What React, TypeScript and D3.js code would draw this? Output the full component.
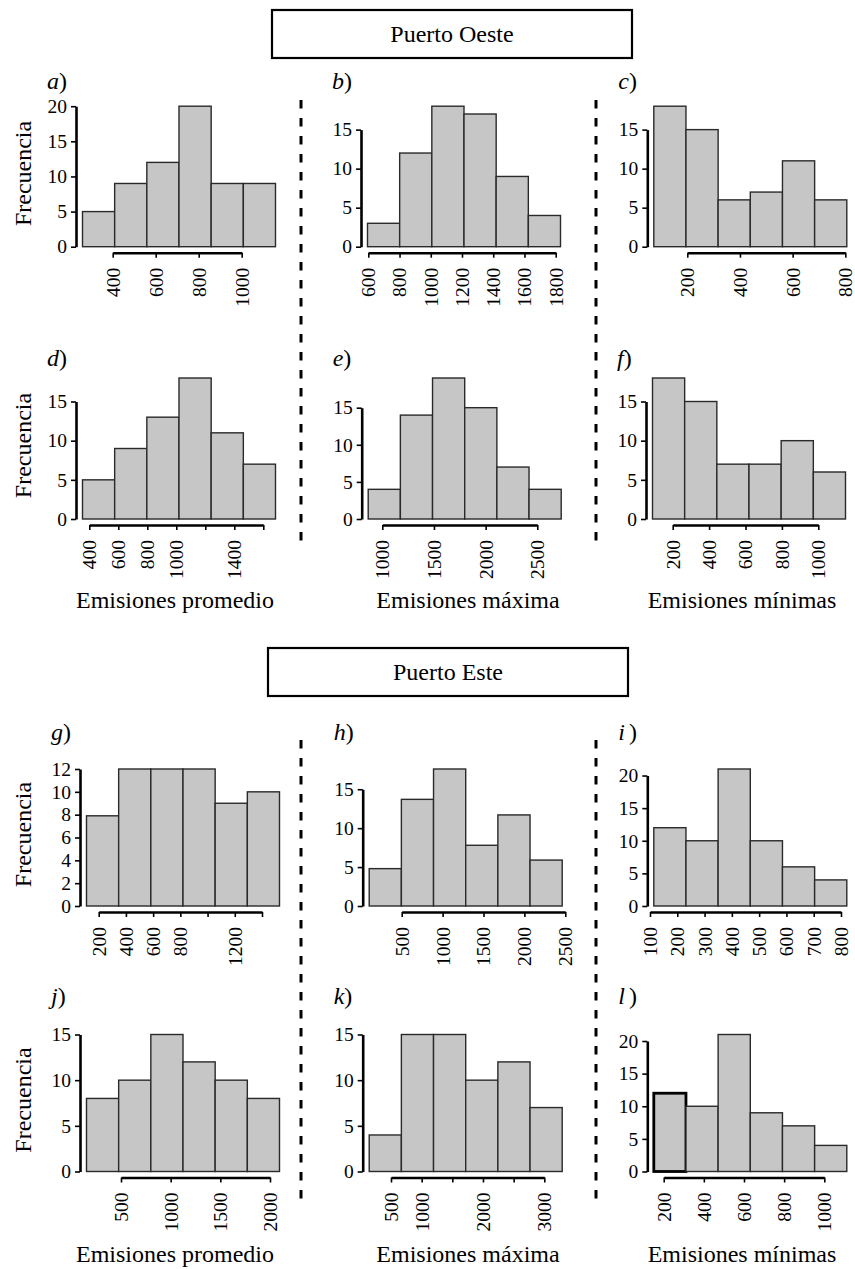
import React, { useRef, useEffect } from "react";
import * as d3 from "d3";

// frecuencias de cada histograma (6 clases)
const countsA = [5, 9, 12, 20, 9, 9];
const countsB = [3, 12, 18, 17, 9, 4];
const countsC = [18, 15, 6, 7, 11, 6];
const countsD = [5, 9, 13, 18, 11, 7];
const countsE = [4, 14, 19, 15, 7, 4];
const countsF = [18, 15, 7, 7, 10, 6];
const countsG = [7.9, 12, 12, 12, 9, 10];
const countsH = [4.8, 13.7, 17.6, 7.8, 11.7, 5.9];
const countsI = [12, 10, 21, 10, 6, 4];
const countsJ = [8, 10, 15, 12, 10, 8];
const countsK = [4, 15, 15, 10, 12, 7];
const countsL = [12, 10, 21, 9, 7, 4];

// ticks eje y
const yTicks15 = [0, 5, 10, 15];
const yTicks20 = [0, 5, 10, 15, 20];
const yTicks12 = [0, 2, 4, 6, 8, 10, 12];

// ticks eje x (y etiquetas; "" = tick sin etiqueta)
const xTicksA = [400, 600, 800, 1000];
const xTicksB = [600, 800, 1000, 1200, 1400, 1600, 1800];
const xTicksC = [200, 400, 600, 800];
const xTicksD = [400, 600, 800, 1000, 1200, 1400, 1600];
const xLabelsD = ["400", "600", "800", "1000", "", "1400", ""];
const xTicksE = [1000, 1500, 2000, 2500];
const xTicksF = [200, 400, 600, 800, 1000];
const xTicksG = [200, 400, 600, 800, 1000, 1200, 1400];
const xLabelsG = ["200", "400", "600", "800", "", "1200", ""];
const xTicksH = [500, 1000, 1500, 2000, 2500];
const xTicksI = [100, 200, 300, 400, 500, 600, 700, 800];
const xTicksJ = [500, 1000, 1500, 2000];
const xTicksK = [500, 1000, 1500, 2000, 2500, 3000];
const xLabelsK = ["500", "1000", "", "2000", "", "3000"];
const xTicksL = [200, 400, 600, 800, 1000];

const headers = ["Puerto Oeste", "Puerto Este"];
const xTitles = ["Emisiones promedio", "Emisiones máxima", "Emisiones mínimas"];
const yTitle = "Frecuencia";

// layout por fila
const rows = [
  { y0: 246.7, h: 140.5, labelY: 89 },
  { y0: 519, h: 141, labelY: 366 },
  { y0: 906, h: 137, labelY: 740 },
  { y0: 1171.5, h: 137, labelY: 1004 },
];
const colCenters = [175, 468, 742];

const panels = [
  { id: "a", counts: countsA, yTicks: yTicks20, xTicks: xTicksA, xLabels: null, row: 0, col: 0, ax: 76, xl: 112.7, xr: 241.7 },
  { id: "b", counts: countsB, yTicks: yTicks15, xTicks: xTicksB, xLabels: null, row: 0, col: 1, ax: 361, xl: 368.3, xr: 555.7 },
  { id: "c", counts: countsC, yTicks: yTicks15, xTicks: xTicksC, xLabels: null, row: 0, col: 2, ax: 647.3, xl: 687.3, xr: 845.3 },
  { id: "d", counts: countsD, yTicks: yTicks15, xTicks: xTicksD, xLabels: xLabelsD, row: 1, col: 0, ax: 76, xl: 89.3, xr: 263.3 },
  { id: "e", counts: countsE, yTicks: yTicks15, xTicks: xTicksE, xLabels: null, row: 1, col: 1, ax: 361.7, xl: 382.3, xr: 537.3 },
  { id: "f", counts: countsF, yTicks: yTicks15, xTicks: xTicksF, xLabels: null, row: 1, col: 2, ax: 646, xl: 672.7, xr: 818.3 },
  { id: "g", counts: countsG, yTicks: yTicks12, xTicks: xTicksG, xLabels: xLabelsG, row: 2, col: 0, ax: 80, xl: 98.7, xr: 262 },
  { id: "h", counts: countsH, yTicks: yTicks15, xTicks: xTicksH, xLabels: null, row: 2, col: 1, ax: 362.7, xl: 401.7, xr: 565.3 },
  { id: "i", counts: countsI, yTicks: yTicks20, xTicks: xTicksI, xLabels: null, row: 2, col: 2, ax: 647.3, xl: 650, xr: 841 },
  { id: "j", counts: countsJ, yTicks: yTicks15, xTicks: xTicksJ, xLabels: null, row: 3, col: 0, ax: 80, xl: 121, xr: 270 },
  { id: "k", counts: countsK, yTicks: yTicks15, xTicks: xTicksK, xLabels: xLabelsK, row: 3, col: 1, ax: 362.7, xl: 391, xr: 544.3 },
  { id: "l", counts: countsL, yTicks: yTicks20, xTicks: xTicksL, xLabels: null, row: 3, col: 2, ax: 647.3, xl: 663.7, xr: 824.3, bold: 0 },
];

const FONT = "'Liberation Serif', 'Times New Roman', serif";

function App() {
  const canvas = useRef(null);

  useEffect(() => {
    const W = 855, H = 1269;
    d3.select(canvas.current).select("svg").remove();

    const svg = d3
      .select(canvas.current)
      .append("svg")
      .attr("width", W)
      .attr("height", H)
      .style("position", "absolute")
      .style("left", 0)
      .style("top", 0)
      .style("background", "#fff")
      .style("font-family", FONT);

    // cajas de encabezado
    const boxes = [
      { x: 272, y: 10, w: 360, h: 48 },
      { x: 268, y: 648, w: 360, h: 48 },
    ];
    boxes.forEach((b, i) => {
      svg.append("rect")
        .attr("x", b.x).attr("y", b.y).attr("width", b.w).attr("height", b.h)
        .attr("fill", "none").attr("stroke", "#000").attr("stroke-width", 2.2);
      svg.append("text")
        .attr("x", b.x + b.w / 2).attr("y", b.y + b.h / 2 + 8)
        .attr("text-anchor", "middle")
        .style("font-size", "24px")
        .text(headers[i]);
    });

    // lineas discontinuas
    const dashes = [
      { x: 301, y1: 100, y2: 550 },
      { x: 596, y1: 100, y2: 550 },
      { x: 301, y1: 740, y2: 1208 },
      { x: 596, y1: 740, y2: 1208 },
    ];
    dashes.forEach((d) => {
      svg.append("line")
        .attr("x1", d.x).attr("x2", d.x).attr("y1", d.y1).attr("y2", d.y2)
        .attr("stroke", "#000").attr("stroke-width", 3)
        .attr("stroke-dasharray", "8.5 9.5");
    });

    panels.forEach((p) => {
      const r = rows[p.row];
      const g = svg.append("g");

      const y = d3.scaleLinear().domain([0, d3.max(p.counts)]).range([r.y0, r.y0 - r.h]);
      const bx = d3.scaleBand()
        .domain(d3.range(p.counts.length))
        .range([p.ax + 6.5, p.ax + 6.5 + 193]);

      // barras
      g.selectAll("rect.bar")
        .data(p.counts)
        .enter()
        .append("rect")
        .attr("x", (d, i) => bx(i))
        .attr("y", (d) => y(d))
        .attr("width", bx.bandwidth())
        .attr("height", (d) => y(0) - y(d))
        .attr("fill", "#c6c6c6")
        .attr("stroke", (d, i) => (p.bold === i ? "#000" : "#2a2a2a"))
        .attr("stroke-width", (d, i) => (p.bold === i ? 2.8 : 1.4));

      // eje y (estilo R: la linea solo cubre los ticks)
      const yt = p.yTicks;
      const yAxisScale = d3.scaleLinear()
        .domain([yt[0], yt[yt.length - 1]])
        .range([y(yt[0]), y(yt[yt.length - 1])]);
      const ya = g.append("g")
        .attr("transform", `translate(${p.ax}, 0)`)
        .call(d3.axisLeft(yAxisScale).tickValues(yt).tickSize(5).tickSizeOuter(0).tickPadding(4));
      ya.attr("font-family", null);
      ya.select(".domain").attr("stroke-width", 2.6);
      ya.selectAll(".tick line").attr("stroke-width", 1.6);
      ya.selectAll("text")
        .style("font-family", FONT)
        .style("font-size", "19.5px")
        .attr("fill", "#000");

      // eje x
      const xt = p.xTicks;
      const labels = p.xLabels || xt.map(String);
      const x = d3.scaleLinear().domain([xt[0], xt[xt.length - 1]]).range([p.xl, p.xr]);
      const xa = g.append("g")
        .attr("transform", `translate(0, ${r.y0 + 6})`)
        .call(d3.axisBottom(x).tickValues(xt).tickSize(5).tickSizeOuter(0)
          .tickFormat((d, i) => labels[i]));
      xa.attr("font-family", null);
      xa.select(".domain").attr("stroke-width", 2.6);
      xa.selectAll(".tick line").attr("stroke-width", 1.6);
      xa.selectAll("text")
        .attr("transform", "rotate(-90)")
        .attr("text-anchor", "end")
        .attr("x", -15)
        .attr("y", 0)
        .attr("dy", "0.33em")
        .style("font-family", FONT)
        .style("font-size", "19.5px")
        .attr("fill", "#000");

      // etiqueta del panel
      const lab = g.append("text")
        .attr("x", p.ax - 29)
        .attr("y", r.labelY)
        .style("font-size", "24px");
      lab.append("tspan").style("font-style", "italic").text(p.id);
      lab.append("tspan")
        .attr("dx", p.id === "i" || p.id === "l" ? 4 : 0)
        .text(")");

      // titulo eje y
      if (p.col === 0) {
        g.append("text")
          .attr("transform", `translate(31, ${r.y0 - r.h / 2 - 3}) rotate(-90)`)
          .attr("text-anchor", "middle")
          .style("font-size", "24px")
          .text(yTitle);
      }

      // titulo eje x
      if (p.row === 1 || p.row === 3) {
        g.append("text")
          .attr("x", colCenters[p.col])
          .attr("y", p.row === 1 ? 608 : 1262)
          .attr("text-anchor", "middle")
          .style("font-size", "24px")
          .text(xTitles[p.col]);
      }
    });
  }, []);

  return <div ref={canvas}></div>;
}

export default App;
